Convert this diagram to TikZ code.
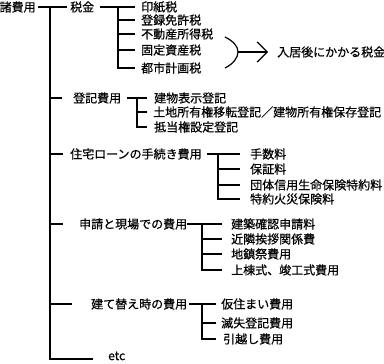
\documentclass[tikz,border=0pt]{standalone}
\usepackage{fontspec}
\setmainfont{Noto Sans CJK JP}[FakeBold=0.6]
\usepackage{tikz}
\usetikzlibrary{arrows.meta}
\tikzstyle{head} = [anchor=west, inner sep=0pt, font=\fontsize{12}{14}\selectfont]
\tikzstyle{leaf} = [anchor=west, inner sep=0pt, font=\fontsize{12}{14}\selectfont]
\tikzstyle{tree} = [line width=1.2pt]
\tikzstyle{arrow} = [line width=1.2pt, -{Straight Barb[length=10pt,width=20pt,line width=1.2pt]}]

\begin{document}
\begin{tikzpicture}[x=1pt, y=-1pt]
				\useasboundingbox (0,0) rectangle (384,364);
				
				\node (root) [head] at (-0.5,7) {諸費用};
				\node (tax) [head] at (70,7) {税金};
				\node (reg) [head] at (73,98) {登記費用};
				\node (loan) [head] at (70,154) {住宅ローンの手続き費用};
				\node (apply) [head] at (79,224) {申請と現場での費用};
				\node (rebuild) [head] at (91,304) {建て替え時の費用};
				\node (etc) [head] at (108,356) {etc};
				
				\node (t1) [leaf] at (141,7) {印紙税};
				\node (t2) [leaf] at (141,20) {登録免許税};
				\node (t3) [leaf] at (141,34) {不動産所得税};
				\node (t4) [leaf] at (141,50) {固定資産税};
				\node (t5) [leaf] at (141,68) {都市計画税};
				\node (after) [leaf] at (277,52) {入居後にかかる税金};
				
				\node (r1) [leaf] at (154,98) {建物表示登記};
				\node (r2) [leaf] at (153,112) {土地所有権移転登記／建物所有権保存登記};
				\node (r3) [leaf] at (154,127) {抵当権設定登記};
				
				\node (l1) [leaf] at (250,154) {手数料};
				\node (l2) [leaf] at (250,169) {保証料};
				\node (l3) [leaf] at (250,185) {団体信用生命保険特約料};
				\node (l4) [leaf] at (250,199) {特約火災保険料};
				
				\node (a1) [leaf] at (231,224) {建築確認申請料};
				\node (a2) [leaf] at (231,239) {近隣挨拶関係費};
				\node (a3) [leaf] at (231,254) {地鎮祭費用};
				\node (a4) [leaf] at (231,270) {上棟式、竣工式費用};
				
				\node (b1) [leaf] at (221,304) {仮住まい費用};
				\node (b2) [leaf] at (221,323) {滅失登記費用};
				\node (b3) [leaf] at (223,339) {引越し費用};
				
				\coordinate (trunk) at (50,7);
				\coordinate (bottom) at (50,359);
				\coordinate (jt) at (118,7);
				\coordinate (jr) at (137,98);
				\coordinate (jl) at (218,154);
				\coordinate (ja) at (202,224);
				\coordinate (jb) at (202,304);
				\coordinate (brace) at (238,52);
				
				\draw [tree, shorten <=2pt, shorten >=3pt] (root) -- (tax);
				\draw [tree] (trunk) -- (bottom) -- ([xshift=-15pt]bottom -| etc.west);
				\draw [tree] (trunk |- reg) -- ([xshift=-11pt]reg.west);
				\draw [tree] (trunk |- loan) -- ([xshift=-7pt]loan.west);
				\draw [tree] (trunk |- apply) -- ([xshift=-16pt]apply.west);
				\draw [tree] (trunk |- rebuild) -- ([xshift=-19pt]rebuild.west);
				
				\draw [tree, shorten <=6pt] (tax) -- ([xshift=-6pt]t1.west);
				\draw [tree] (jt) |- ([xshift=-6pt]t5.west);
				\foreach \i in {2,3,4}
					\draw [tree] (jt |- t\i) -- ([xshift=-6pt]t\i.west);
				
				\draw [tree] (225,37) .. controls (233,41) and (238,46) .. (brace) .. controls (238,58) and (233,64) .. (225,68);
				\draw [arrow] (brace) -- ([xshift=-9pt]after.west);
				
				\draw [tree, shorten <=6pt] (reg) -- ([xshift=-7pt]r1.west);
				\draw [tree] (jr) |- ([xshift=-7pt]r3.west);
				\draw [tree] (jr |- r2) -- ([xshift=-6pt]r2.west);
				
				\draw [tree, shorten <=5pt] (loan) -- ([xshift=-10pt]l1.west);
				\draw [tree] (jl) |- ([xshift=-10pt]l4.west);
				\foreach \i in {2,3}
					\draw [tree] (jl |- l\i) -- ([xshift=-10pt]l\i.west);
				
				\draw [tree] (apply) -- ([xshift=-9pt]a1.west);
				\draw [tree] (ja) |- ([xshift=-9pt]a4.west);
				\foreach \i in {2,3}
					\draw [tree] (ja |- a\i) -- ([xshift=-9pt]a\i.west);
				
				\draw [tree, shorten <=2pt] (rebuild) -- ([xshift=-5pt]b1.west);
				\draw [tree] (jb) |- ([xshift=-7pt]b3.west);
				\draw [tree] (jb |- b2) -- ([xshift=-5pt]b2.west);
				
\end{tikzpicture}
\end{document}
